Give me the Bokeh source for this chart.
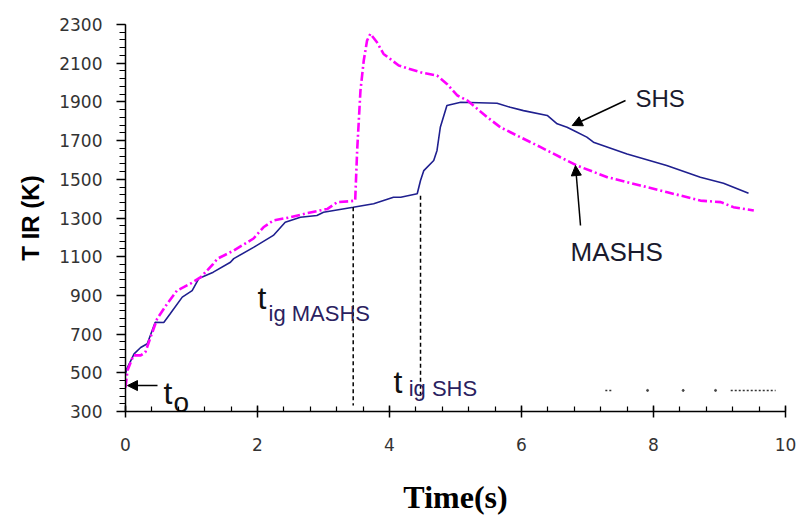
from bokeh.plotting import figure
from bokeh.models import Range1d, FixedTicker, Arrow, NormalHead
from bokeh.core.properties import value
from bokeh.embed import file_html
from bokeh.resources import INLINE

# ---- data ----
shs_t = [0.0, 0.02, 0.13, 0.23, 0.33, 0.45, 0.58, 0.68, 0.86, 1.01, 1.11, 1.33,
         1.59, 1.64, 1.94, 2.24, 2.42, 2.65, 2.90, 3.00, 3.45, 3.76, 4.06, 4.17,
         4.42, 4.47, 4.52, 4.67, 4.72, 4.77, 4.87, 5.08, 5.63, 5.83, 6.03, 6.39,
         6.54, 6.69, 6.79, 6.99, 7.09, 7.60, 8.20, 8.71, 9.06, 9.44]
shs_T = [496, 520, 598, 631, 650, 761, 760, 806, 891, 925, 987, 1020,
         1071, 1090, 1148, 1210, 1278, 1304, 1313, 1330, 1356, 1374, 1407, 1407,
         1425, 1494, 1545, 1597, 1649, 1769, 1881, 1898, 1893, 1872, 1855, 1830,
         1787, 1769, 1752, 1718, 1692, 1631, 1571, 1511, 1480, 1428]

mashs_t = [0.0, 0.03, 0.12, 0.23, 0.30, 0.38, 0.48, 0.63, 0.78, 0.98, 1.14, 1.33,
           1.39, 1.64, 1.94, 2.09, 2.24, 2.50, 2.75, 3.06, 3.21, 3.41, 3.48, 3.51,
           3.56, 3.61, 3.66, 3.71, 3.81, 3.91, 4.14, 4.47, 4.72, 4.87, 5.03, 5.18,
           5.48, 5.68, 5.98, 6.29, 6.59, 6.84, 7.30, 7.80, 8.21, 8.71, 9.02, 9.21,
           9.52]
mashs_T = [424, 512, 590, 590, 606, 684, 779, 856, 925, 960, 994, 1063,
           1089, 1132, 1194, 1252, 1287, 1304, 1325, 1347, 1382, 1387, 1390, 1649,
           1959, 2114, 2217, 2252, 2208, 2148, 2088, 2053, 2036, 1993, 1933, 1907,
           1821, 1769, 1718, 1666, 1614, 1571, 1511, 1468, 1433, 1390, 1382, 1356,
           1339]

x_ticks = [0, 2, 4, 6, 8, 10]
x_minor = [0.4 * i for i in range(26)]
y_ticks = [300, 500, 700, 900, 1100, 1300, 1500, 1700, 1900, 2100, 2300]
y_minor = [300 + 40 * i for i in range(51)]

# ignition times (dashed markers)
ign_t = [3.45, 4.47]
ign_top = [1356, 1415]
ign_bottom = [331, 362]

# annotation texts
big_t_x = [0.576, 2.0, 4.06]
big_t_y = [398, 884, 450]
sub_text = ["ig MASHS", "ig SHS"]
sub_x = [2.167, 4.29]
sub_y = [806, 419]
o_x = [0.727]
o_y = [347]
name_text = ["SHS", "MASHS"]
name_x = [7.727, 6.742]
name_y = [1918, 1122]
name_size = ["24px", "26px"]

# arrows: (x_start, y_start, x_end, y_end)
arrows = [(7.576, 1907, 6.768, 1778),
          (6.894, 1261, 6.818, 1571),
          (0.485, 434, 0.03, 434)]

# faint marks near bottom right
mark_dash_x = [[7.27, 7.38], [9.17, 9.85]]
mark_dash_y = [[409, 409], [409, 409]]
mark_dot_x = [7.91, 8.45, 8.94]
mark_dot_y = [409, 409, 409]

# ---- figure ----
p = figure(width=799, height=518, x_range=Range1d(0, 10), y_range=Range1d(300, 2300),
           output_backend="svg", toolbar_location=None,
           min_border_left=125, min_border_right=14, min_border_top=24, min_border_bottom=107)
p.xgrid.visible = False
p.ygrid.visible = False
p.outline_line_color = None
p.background_fill_color = "white"
p.border_fill_color = "white"

p.xaxis.ticker = FixedTicker(ticks=x_ticks, minor_ticks=x_minor)
p.yaxis.ticker = FixedTicker(ticks=y_ticks, minor_ticks=y_minor)

for ax in (p.xaxis, p.yaxis):
    ax.axis_line_color = "black"
    ax.axis_line_width = 1.5
    ax.major_tick_line_color = "black"
    ax.major_tick_line_width = 1.5
    ax.minor_tick_line_color = "black"
    ax.minor_tick_line_width = 1.2
    ax.major_label_text_font = "DejaVu Sans"
    ax.major_label_text_font_size = "17px"
    ax.major_label_text_color = "#333333"

p.xaxis.major_tick_in = 6
p.xaxis.major_tick_out = 6
p.xaxis.minor_tick_in = 5
p.xaxis.minor_tick_out = 0
p.xaxis.major_label_standoff = 20
p.xaxis.axis_label = "Time(s)"
p.xaxis.axis_label_text_font = "Liberation Serif"
p.xaxis.axis_label_text_font_size = "32px"
p.xaxis.axis_label_text_font_style = "bold"
p.xaxis.axis_label_text_color = "black"
p.xaxis.axis_label_standoff = 25

p.yaxis.major_tick_in = 0
p.yaxis.major_tick_out = 9
p.yaxis.minor_tick_in = 0
p.yaxis.minor_tick_out = 6
p.yaxis.major_label_standoff = 14
p.yaxis.axis_label = "T IR (K)"
p.yaxis.axis_label_text_font = "Liberation Sans"
p.yaxis.axis_label_text_font_size = "24px"
p.yaxis.axis_label_text_font_style = "bold"
p.yaxis.axis_label_text_color = "black"
p.yaxis.axis_label_standoff = 12

# series
p.line(shs_t, shs_T, line_color="#1f1f8f", line_width=1.6)
p.line(mashs_t, mashs_T, line_color="#ff00ff", line_width=2.6, line_dash="9 3 2 3")

# ignition markers
p.segment(x0=ign_t, y0=ign_top, x1=ign_t, y1=ign_bottom,
          line_color="black", line_width=1.5, line_dash="4 3")

# faint marks
p.multi_line(mark_dash_x, mark_dash_y, line_color="#333333", line_width=1.5, line_dash="2 2")
p.scatter(mark_dot_x, mark_dot_y, size=2, color="#444444")

# arrows
for xs, ys, xe, ye in arrows:
    p.add_layout(Arrow(end=NormalHead(size=10, fill_color="black", line_color="black"),
                       x_start=xs, y_start=ys, x_end=xe, y_end=ye,
                       line_color="black", line_width=1.5))

# annotation texts
p.text(x=big_t_x, y=big_t_y, text=["t", "t", "t"], text_font=value("Liberation Sans"),
       text_font_size=value("32px"), text_color="#111111",
       text_align="left", text_baseline="alphabetic")
p.text(x=o_x, y=o_y, text=["o"], text_font=value("Liberation Sans"),
       text_font_size=value("28px"), text_color="#111111",
       text_align="left", text_baseline="alphabetic")
p.text(x=sub_x, y=sub_y, text=sub_text, text_font=value("Liberation Sans"),
       text_font_size=value("22px"), text_color="#2a2160",
       text_align="left", text_baseline="alphabetic")
p.text(x=name_x[:1], y=name_y[:1], text=name_text[:1], text_font=value("Liberation Sans"),
       text_font_size=value(name_size[0]), text_color="#1a1a2e",
       text_align="left", text_baseline="alphabetic")
p.text(x=name_x[1:], y=name_y[1:], text=name_text[1:], text_font=value("Liberation Sans"),
       text_font_size=value(name_size[1]), text_color="#1a1a2e",
       text_align="left", text_baseline="alphabetic")

open("out.html", "w").write(file_html(p, INLINE))
